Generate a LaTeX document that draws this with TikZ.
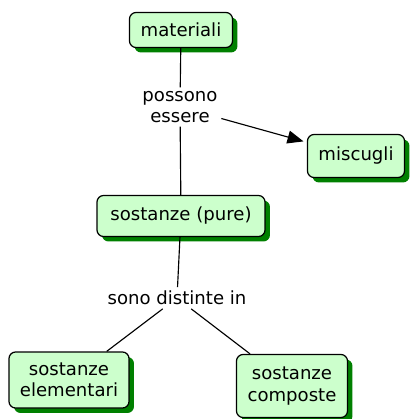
\documentclass[tikz,border=0pt]{standalone}
\usepackage{fontspec}
\setmainfont{DejaVu Sans}
\usetikzlibrary{shadows,arrows.meta}
\definecolor{verdino}{RGB}{204,255,204}
\definecolor{scuro}{RGB}{0,128,0}

\begin{document}
\begin{tikzpicture}[x=0.02cm,y=-0.02cm,
  concetto/.style={draw, line width=0.7pt, rounded corners=0.13cm, fill=verdino, align=center,
    font=\fontsize{10.3}{12}\selectfont,
    drop shadow={shadow xshift=0.1cm, shadow yshift=-0.1cm, fill=scuro, opacity=1}},
  frase/.style={align=center, inner sep=2pt, font=\fontsize{10.3}{12}\selectfont},
  linea/.style={line width=0.65pt}]
\useasboundingbox (0,0) rectangle (410,419);
% concetti
\node[concetto, minimum width=2.06cm, minimum height=0.7cm] (materiali) at (181,30) {materiali};
\node[concetto, minimum width=1.94cm, minimum height=0.86cm] (miscugli) at (356,156) {miscugli};
\node[concetto, minimum width=3.36cm, minimum height=0.82cm] (pure) at (181,216) {sostanze (pure)};
\node[concetto, minimum width=2.4cm, minimum height=1.12cm] (elementari) at (69,380) {sostanze\\elementari};
\node[concetto, minimum width=2.22cm, minimum height=1.26cm] (composte) at (292,386) {sostanze\\composte};
% frasi di collegamento
\node[frase] (possono) at (180,107) {possono\\essere};
\node[frase] (distinte) at (177,298) {sono distinte in};
% collegamenti
\draw[linea] (materiali) -- (possono);
\draw[linea] (possono) -- (pure);
\draw[linea, -{Triangle[length=0.32cm,width=0.26cm]}, shorten >=2pt] (possono) -- (miscugli);
\draw[linea] (pure) -- (distinte);
\draw[linea] (distinte) -- (elementari);
\draw[linea] (distinte) -- (composte);
\end{tikzpicture}
\end{document}
